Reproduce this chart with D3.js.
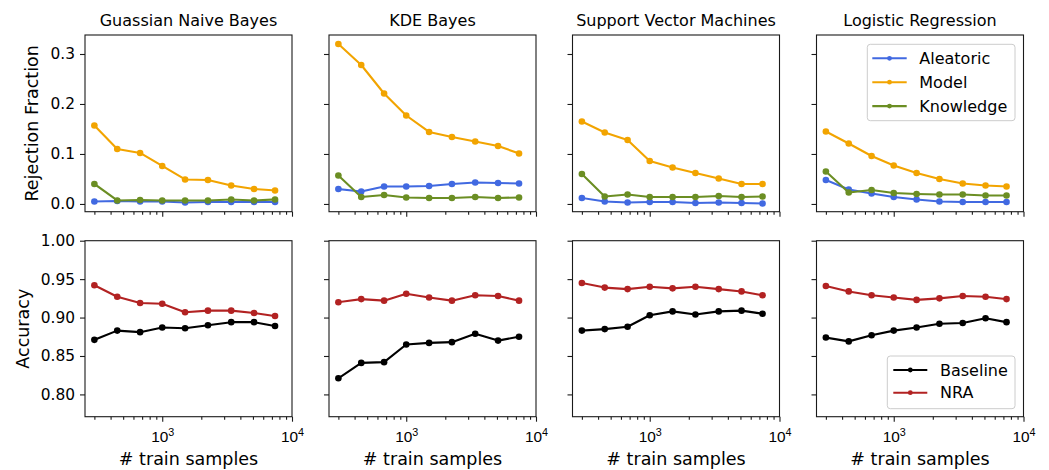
<!DOCTYPE html>
<html>
<head>
<meta charset="utf-8">
<script src="https://cdn.jsdelivr.net/npm/d3@7"></script>
<style>
  body { margin: 0; background: #fff; }
  svg { display: block; font-family: "DejaVu Sans", sans-serif; }
</style>
</head>
<body>
<svg id="chart" width="1049" height="470"></svg>
<script>
// Training-set sizes shared by every panel
const samples = [300, 450, 675, 1000, 1500, 2250, 3400, 5100, 7400];
const classifiers = ["Guassian Naive Bayes", "KDE Bayes", "Support Vector Machines", "Logistic Regression"];

// Rejection fraction per uncertainty type (one row per classifier)
const aleatoric = [
  [0.005, 0.006, 0.005, 0.005, 0.003, 0.004, 0.004, 0.004, 0.004],
  [0.030, 0.025, 0.035, 0.035, 0.036, 0.040, 0.043, 0.042, 0.041],
  [0.012, 0.005, 0.003, 0.004, 0.004, 0.002, 0.003, 0.002, 0.001],
  [0.048, 0.029, 0.021, 0.014, 0.009, 0.005, 0.004, 0.004, 0.004]
];
const modelUnc = [
  [0.157, 0.110, 0.102, 0.076, 0.049, 0.048, 0.037, 0.030, 0.027],
  [0.320, 0.278, 0.221, 0.177, 0.144, 0.134, 0.125, 0.116, 0.101],
  [0.165, 0.143, 0.128, 0.086, 0.073, 0.062, 0.051, 0.040, 0.040],
  [0.145, 0.121, 0.096, 0.077, 0.062, 0.050, 0.041, 0.037, 0.035]
];
const knowledge = [
  [0.040, 0.007, 0.008, 0.007, 0.007, 0.007, 0.009, 0.007, 0.009],
  [0.057, 0.014, 0.018, 0.013, 0.012, 0.012, 0.014, 0.012, 0.013],
  [0.060, 0.015, 0.019, 0.014, 0.014, 0.014, 0.016, 0.014, 0.015],
  [0.065, 0.023, 0.028, 0.022, 0.020, 0.019, 0.019, 0.017, 0.017]
];

// Accuracy of the plain classifier and with non-rejection (NRA)
const baseline = [
  [0.871, 0.883, 0.881, 0.887, 0.886, 0.890, 0.894, 0.894, 0.889],
  [0.821, 0.841, 0.842, 0.865, 0.867, 0.868, 0.879, 0.870, 0.875],
  [0.883, 0.885, 0.888, 0.903, 0.908, 0.904, 0.908, 0.909, 0.905],
  [0.874, 0.869, 0.877, 0.883, 0.887, 0.892, 0.893, 0.899, 0.894]
];
const nra = [
  [0.942, 0.927, 0.919, 0.918, 0.907, 0.909, 0.909, 0.906, 0.902],
  [0.920, 0.924, 0.922, 0.931, 0.926, 0.922, 0.929, 0.928, 0.922],
  [0.945, 0.939, 0.937, 0.940, 0.938, 0.940, 0.937, 0.934, 0.929],
  [0.941, 0.934, 0.929, 0.926, 0.923, 0.925, 0.928, 0.927, 0.924]
];

const rejectionTicks = [0.0, 0.1, 0.2, 0.3];
const accuracyTicks = [0.80, 0.85, 0.90, 0.95, 1.00];
const majorX = [1000, 10000];
const minorX = [300, 400, 500, 600, 700, 800, 900, 2000, 3000, 4000, 5000, 6000, 7000, 8000, 9000];

const topSeries = [
  { name: "Aleatoric", color: "#4169e1", data: aleatoric },
  { name: "Model", color: "#f2a400", data: modelUnc },
  { name: "Knowledge", color: "#6b8e23", data: knowledge }
];
const bottomSeries = [
  { name: "Baseline", color: "#000000", data: baseline },
  { name: "NRA", color: "#b22222", data: nra }
];

// Layout
const panelLeft = [85, 329, 572.5, 816.5];
const panelW = 207;
const rows = [
  { top: 35, bottom: 211.7, domain: [-0.0155, 0.338], ticks: rejectionTicks, fmt: d3.format(".1f"), series: topSeries, label: "Rejection Fraction", labelX: 37.5 },
  { top: 240.7, bottom: 416.7, domain: [0.771, 1.0], ticks: accuracyTicks, fmt: d3.format(".2f"), series: bottomSeries, label: "Accuracy", labelX: 28.5 }
];

const svg = d3.select("#chart");
const spineColor = "#1a1a1a";
const tickFont = 15.4;

function styleAxis(g) {
  g.select(".domain").remove();
  g.selectAll(".tick line").attr("stroke", spineColor).attr("stroke-width", 1.1);
  g.selectAll(".tick text").attr("fill", "#000").attr("font-size", tickFont).attr("font-family", "DejaVu Sans, sans-serif");
}

rows.forEach((row, ri) => {
  classifiers.forEach((clf, ci) => {
    const x0 = panelLeft[ci];
    const x = d3.scaleLog().domain([254, 10000]).range([x0, x0 + panelW]);
    const y = d3.scaleLinear().domain(row.domain).range([row.bottom, row.top]);
    const g = svg.append("g");

    // y axis
    const yAxis = d3.axisLeft(y).tickValues(row.ticks).tickSize(5).tickPadding(5)
      .tickFormat(ci === 0 ? row.fmt : () => "");
    g.append("g").attr("transform", `translate(${x0},0)`).call(yAxis).call(styleAxis);

    // x axis: minor then major ticks
    const xMinor = d3.axisBottom(x).tickValues(minorX).tickSize(3).tickFormat(() => "");
    g.append("g").attr("transform", `translate(0,${row.bottom})`).call(xMinor).call(styleAxis);
    const xMajor = d3.axisBottom(x).tickValues(majorX).tickSize(5).tickPadding(5).tickFormat(() => "");
    const xg = g.append("g").attr("transform", `translate(0,${row.bottom})`).call(xMajor).call(styleAxis);
    if (ri === 1) {
      xg.selectAll(".tick").append("text")
        .attr("y", 25).attr("text-anchor", "middle").attr("fill", "#000")
        .attr("font-size", tickFont)
        .each(function (d) {
          const t = d3.select(this);
          t.append("tspan").text("10");
          t.append("tspan").attr("dy", -6).attr("font-size", tickFont * 0.7).text(Math.round(Math.log10(d)));
        });
      g.append("text")
        .attr("x", x0 + panelW / 2).attr("y", 465)
        .attr("text-anchor", "middle").attr("font-size", 17.5).attr("fill", "#000")
        .text("# train samples");
    }

    // series
    const line = d3.line().x((d, i) => x(samples[i])).y(d => y(d));
    row.series.forEach(s => {
      const vals = s.data[ci];
      g.append("path").datum(vals)
        .attr("d", line).attr("fill", "none")
        .attr("stroke", s.color).attr("stroke-width", 2.1)
        .attr("stroke-linejoin", "round").attr("stroke-linecap", "square");
      g.selectAll(null).data(vals).enter().append("circle")
        .attr("cx", (d, i) => x(samples[i])).attr("cy", d => y(d))
        .attr("r", 3.3).attr("fill", s.color);
    });

    // frame
    g.append("rect")
      .attr("x", x0).attr("y", row.top)
      .attr("width", panelW).attr("height", row.bottom - row.top)
      .attr("fill", "none").attr("stroke", spineColor).attr("stroke-width", 1.1);

    if (ri === 0) {
      g.append("text")
        .attr("x", x0 + panelW / 2).attr("y", 26)
        .attr("text-anchor", "middle").attr("font-size", 16).attr("fill", "#000")
        .text(clf);
    }
    if (ci === 0) {
      g.append("text")
        .attr("transform", `translate(${row.labelX},${(row.top + row.bottom) / 2}) rotate(-90)`)
        .attr("text-anchor", "middle").attr("font-size", 17.5).attr("fill", "#000")
        .text(row.label);
    }
  });
});

// Legends (in the last column)
function legend(items, box, firstY, step, lineX0, lineX1, textX) {
  const lg = svg.append("g");
  lg.append("rect")
    .attr("x", box.x).attr("y", box.y).attr("width", box.w).attr("height", box.h)
    .attr("rx", 3).attr("fill", "#fff").attr("fill-opacity", 0.8)
    .attr("stroke", "#cccccc").attr("stroke-width", 1);
  items.forEach((s, i) => {
    const yy = firstY + i * step;
    lg.append("line").attr("x1", lineX0).attr("x2", lineX1).attr("y1", yy).attr("y2", yy)
      .attr("stroke", s.color).attr("stroke-width", 2.1);
    lg.append("circle").attr("cx", (lineX0 + lineX1) / 2).attr("cy", yy).attr("r", 2.4).attr("fill", s.color);
    lg.append("text").attr("x", textX).attr("y", yy + 5.5)
      .attr("font-size", 16).attr("fill", "#000").text(s.name);
  });
}
legend(topSeries, { x: 867.3, y: 44.3, w: 147.7, h: 76.4 }, 58.3, 23.9, 872.3, 906.7, 919.3);
legend(bottomSeries, { x: 887.3, y: 356, w: 127.7, h: 52.7 }, 370, 22.7, 893.3, 927.3, 940);
</script>
</body>
</html>
